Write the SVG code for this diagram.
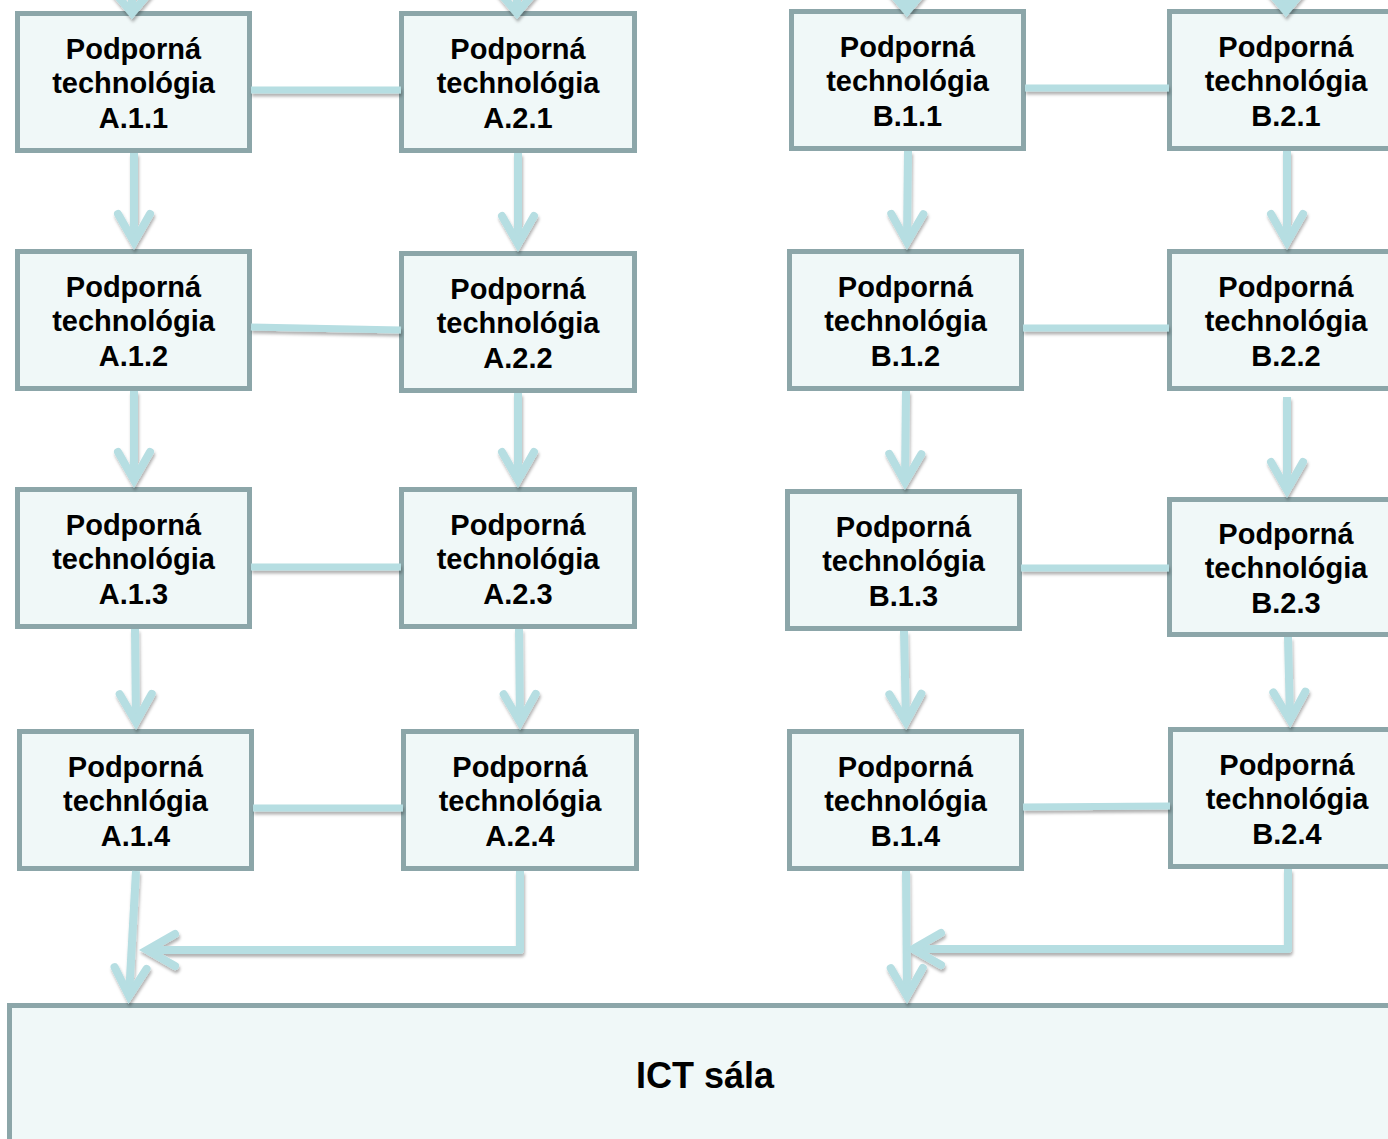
<svg xmlns="http://www.w3.org/2000/svg" width="1388" height="1139" viewBox="0 0 1388 1139">
<style>
.box{fill:#F0F8F8;stroke:#8CA6A9;stroke-width:5}
.lbl{font-family:"Liberation Sans",Arial,sans-serif;font-weight:bold;font-size:29px;fill:#000;text-anchor:middle}
.big{font-size:36px}
.con{fill:none;stroke:#B6DEE2;stroke-width:8;stroke-linejoin:round}
.h{stroke-width:7}
.chev{fill:none;stroke:#B6DEE2;stroke-width:8;stroke-linecap:round;stroke-linejoin:miter}
</style>
<defs>
<filter id="sh" filterUnits="userSpaceOnUse" x="-20" y="-100" width="1440" height="1300">
<feDropShadow dx="1" dy="3" stdDeviation="1.6" flood-color="#000" flood-opacity="0.3"/>
</filter>
<marker id="arr" markerUnits="userSpaceOnUse" markerWidth="80" markerHeight="80" refX="0" refY="0" orient="auto" style="overflow:visible">
<path class="chev" d="M-28,-16 L0,0 L-28,16"/>
</marker>
<marker id="arrW" markerUnits="userSpaceOnUse" markerWidth="80" markerHeight="80" refX="0" refY="0" orient="auto" style="overflow:visible">
<path class="chev" d="M-26,-22 L0,0 L-26,22"/>
</marker>
</defs>
<rect width="1388" height="1139" fill="#fff"/>

<g id="A11"><rect class="box" x="17.5" y="13.5" width="232" height="137"/><text class="lbl" x="133.5" y="59">Podporná</text><text class="lbl" x="133.5" y="93">technológia</text><text class="lbl" x="133.5" y="128">A.1.1</text></g>
<g id="A21"><rect class="box" x="401.5" y="13.5" width="233" height="137"/><text class="lbl" x="518" y="59">Podporná</text><text class="lbl" x="518" y="93">technológia</text><text class="lbl" x="518" y="128">A.2.1</text></g>
<g id="A12"><rect class="box" x="17.5" y="251.5" width="232" height="137"/><text class="lbl" x="133.5" y="297">Podporná</text><text class="lbl" x="133.5" y="331">technológia</text><text class="lbl" x="133.5" y="366">A.1.2</text></g>
<g id="A22"><rect class="box" x="401.5" y="253.5" width="233" height="137"/><text class="lbl" x="518" y="299">Podporná</text><text class="lbl" x="518" y="333">technológia</text><text class="lbl" x="518" y="368">A.2.2</text></g>
<g id="A13"><rect class="box" x="17.5" y="489.5" width="232" height="137"/><text class="lbl" x="133.5" y="535">Podporná</text><text class="lbl" x="133.5" y="569">technológia</text><text class="lbl" x="133.5" y="604">A.1.3</text></g>
<g id="A23"><rect class="box" x="401.5" y="489.5" width="233" height="137"/><text class="lbl" x="518" y="535">Podporná</text><text class="lbl" x="518" y="569">technológia</text><text class="lbl" x="518" y="604">A.2.3</text></g>
<g id="A14"><rect class="box" x="19.5" y="731.5" width="232" height="137"/><text class="lbl" x="135.5" y="777">Podporná</text><text class="lbl" x="135.5" y="811">technlógia</text><text class="lbl" x="135.5" y="846">A.1.4</text></g>
<g id="A24"><rect class="box" x="403.5" y="731.5" width="233" height="137"/><text class="lbl" x="520" y="777">Podporná</text><text class="lbl" x="520" y="811">technológia</text><text class="lbl" x="520" y="846">A.2.4</text></g>

<g id="B11"><rect class="box" x="791.5" y="11.5" width="232" height="137"/><text class="lbl" x="907.5" y="57">Podporná</text><text class="lbl" x="907.5" y="91">technológia</text><text class="lbl" x="907.5" y="126">B.1.1</text></g>
<g id="B21"><rect class="box" x="1169.5" y="11.5" width="233" height="137"/><text class="lbl" x="1286" y="57">Podporná</text><text class="lbl" x="1286" y="91">technológia</text><text class="lbl" x="1286" y="126">B.2.1</text></g>
<g id="B12"><rect class="box" x="789.5" y="251.5" width="232" height="137"/><text class="lbl" x="905.5" y="297">Podporná</text><text class="lbl" x="905.5" y="331">technológia</text><text class="lbl" x="905.5" y="366">B.1.2</text></g>
<g id="B22"><rect class="box" x="1169.5" y="251.5" width="233" height="137"/><text class="lbl" x="1286" y="297">Podporná</text><text class="lbl" x="1286" y="331">technológia</text><text class="lbl" x="1286" y="366">B.2.2</text></g>
<g id="B13"><rect class="box" x="787.5" y="491.5" width="232" height="137"/><text class="lbl" x="903.5" y="537">Podporná</text><text class="lbl" x="903.5" y="571">technológia</text><text class="lbl" x="903.5" y="606">B.1.3</text></g>
<g id="B23"><rect class="box" x="1169.5" y="499.5" width="233" height="135"/><text class="lbl" x="1286" y="544">Podporná</text><text class="lbl" x="1286" y="578">technológia</text><text class="lbl" x="1286" y="613">B.2.3</text></g>
<g id="B14"><rect class="box" x="789.5" y="731.5" width="232" height="137"/><text class="lbl" x="905.5" y="777">Podporná</text><text class="lbl" x="905.5" y="811">technológia</text><text class="lbl" x="905.5" y="846">B.1.4</text></g>
<g id="B24"><rect class="box" x="1170.5" y="729.5" width="233" height="137"/><text class="lbl" x="1287" y="775">Podporná</text><text class="lbl" x="1287" y="809">technológia</text><text class="lbl" x="1287" y="844">B.2.4</text></g>

<g id="ICT"><rect class="box" x="9.5" y="1005.5" width="1400" height="200"/><text class="lbl big" x="705" y="1088">ICT sála</text></g>

<g id="connectors" filter="url(#sh)">
<path class="con" marker-end="url(#arrW)" d="M132,-60 L132,13"/>
<path class="con" marker-end="url(#arrW)" d="M517,-60 L517,13"/>
<path class="con" marker-end="url(#arrW)" d="M907,-60 L907,11"/>
<path class="con" marker-end="url(#arrW)" d="M1286,-60 L1286,11"/>

<path class="con" marker-end="url(#arr)" d="M134,153 V242"/>
<path class="con" marker-end="url(#arr)" d="M134,391 V480"/>
<path class="con" marker-end="url(#arr)" d="M135,629 L136,722"/>
<path class="con" marker-end="url(#arr)" d="M518,153 V244"/>
<path class="con" marker-end="url(#arr)" d="M518,393 V480"/>
<path class="con" marker-end="url(#arr)" d="M519,629 L520,722"/>
<path class="con" marker-end="url(#arr)" d="M908,151 L907,242"/>
<path class="con" marker-end="url(#arr)" d="M906,391 L905,482"/>
<path class="con" marker-end="url(#arr)" d="M904,631 L906,722"/>
<path class="con" marker-end="url(#arr)" d="M1287,151 V242"/>
<path class="con" marker-end="url(#arr)" d="M1287,397 V490"/>
<path class="con" marker-end="url(#arr)" d="M1288,637 L1290,720"/>

<path class="con" marker-end="url(#arr)" d="M136,871 L129,996"/>
<path class="con" marker-end="url(#arr)" d="M906,871 L907,996"/>
<path class="con" marker-end="url(#arr)" d="M520,871 V950 H147"/>
<path class="con" marker-end="url(#arr)" d="M1288,869 V949 H913"/>

<path class="con h" d="M251,90 H401"/>
<path class="con h" d="M251,327 L401,330"/>
<path class="con h" d="M251,567 H401"/>
<path class="con h" d="M253,808 H403"/>
<path class="con h" d="M1025,88 H1169"/>
<path class="con h" d="M1023,328 H1169"/>
<path class="con h" d="M1021,568 H1169"/>
<path class="con h" d="M1023,807 L1170,806"/>
</g>
</svg>
